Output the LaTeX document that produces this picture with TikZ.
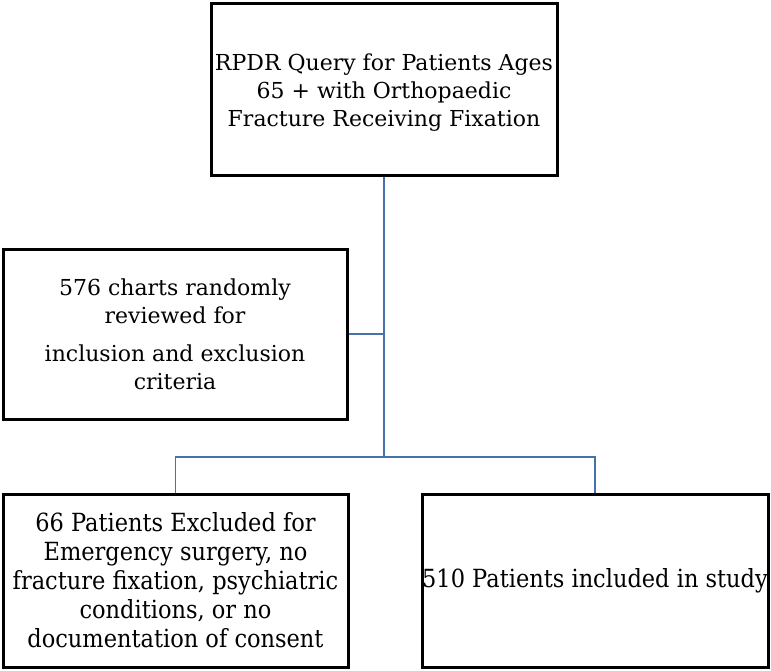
\documentclass[tikz,border=0pt]{standalone}
\usepackage{fontspec}
\setmainfont{DejaVu Serif}
\newfontfamily\narrowfont[FakeStretch=0.9]{DejaVu Serif}
\tikzset{
  stagebox/.style={draw=black, line width=3pt, fill=white, align=center,
    inner sep=0pt, font=\fontsize{22}{28}\selectfont},
  flowline/.style={draw=flowblue, line width=1.8pt}
}
\definecolor{flowblue}{RGB}{70,114,172}
\begin{document}
\begin{tikzpicture}[x=1pt, y=-1pt]
    \useasboundingbox (0,0) rectangle (771,670);
    \node[stagebox, minimum width=346pt, minimum height=172pt] (query) at (384, 89) {\rule{0pt}{23pt}RPDR Query for Patients Ages\\65 + with Orthopaedic\\Fracture Receiving Fixation};
    \node[stagebox, minimum width=344pt, minimum height=170pt] (review) at (175, 334) {576 charts randomly\\reviewed for\\[10pt]inclusion and exclusion\\criteria};
    \node[stagebox, minimum width=345pt, minimum height=173pt, font=\narrowfont\fontsize{25}{29}\selectfont] (excluded) at (175.5, 580.5) {66 Patients Excluded for\\Emergency surgery, no\\fracture fixation, psychiatric\\conditions, or no\\documentation of consent};
    \node[stagebox, minimum width=346pt, minimum height=173pt, font=\narrowfont\fontsize{25}{29}\selectfont] (included) at (595, 580.5) {510 Patients included in study};
    \coordinate (split) at (384, 457);
    \draw[flowline] (query.south) -- (split);
    \draw[flowline] (review.east) -- (review.east -| split);
    \draw[flowline] (excluded.north) |- (split) -| (included.north);
\end{tikzpicture}
\end{document}
